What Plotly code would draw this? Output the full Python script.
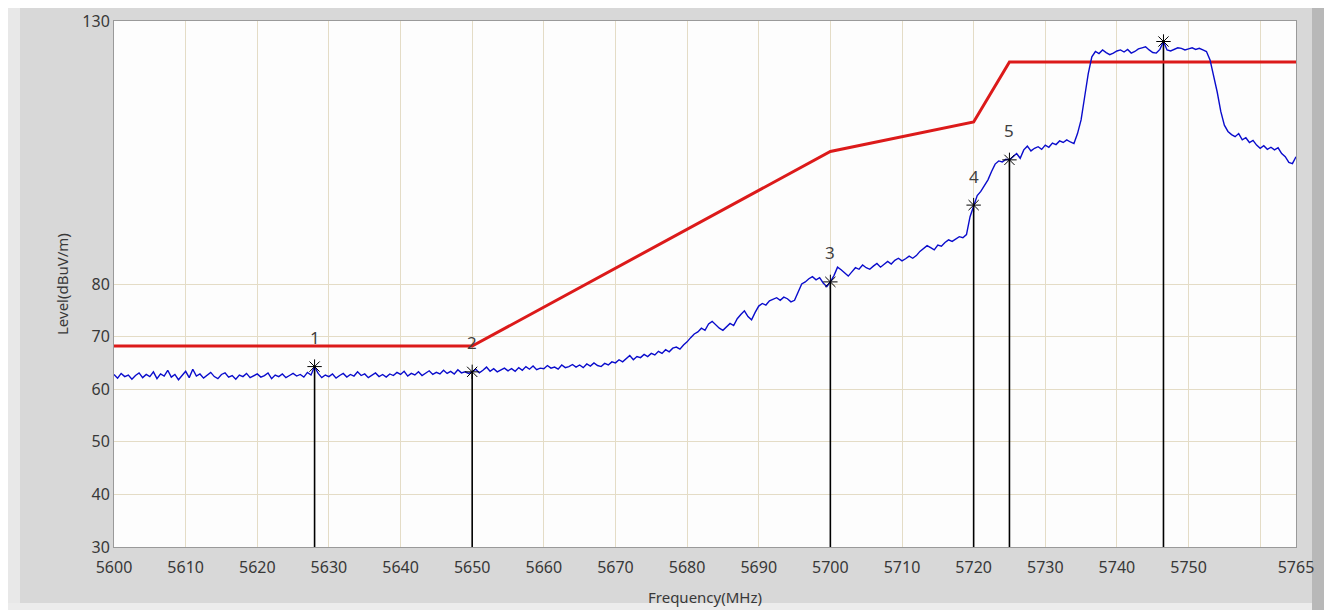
import numpy as np
import plotly.graph_objects as go

# ---- data ----
freq_start = 5600.0
freq_step = 0.5
trace_level = [
    # 5600.0 - 5609.5
    62.8, 62.1, 63.0, 62.4, 62.7, 61.9, 62.6, 63.1, 62.2, 62.8, 62.4, 63.3, 62.0, 62.9, 62.5, 63.6, 62.3, 62.8, 61.8, 62.6,
    # 5610.0 - 5619.5
    63.4, 62.2, 63.8, 62.5, 62.9, 62.1, 62.7, 63.2, 62.4, 62.0, 62.8, 63.1, 62.3, 62.6, 61.9, 62.7, 62.4, 63.0, 62.2, 62.5,
    # 5620.0 - 5629.5
    62.9, 62.3, 62.6, 63.1, 62.0, 62.7, 62.4, 62.9, 62.2, 62.6, 63.0, 62.5, 62.8, 62.3, 63.2, 62.7, 64.3, 63.0, 62.2, 62.7,
    # 5630.0 - 5639.5
    62.4, 62.9, 62.1, 62.6, 63.0, 62.3, 62.8, 62.5, 63.3, 62.6, 62.9, 62.2, 62.7, 63.1, 62.4, 62.8, 62.3, 62.9, 62.6, 63.2,
    # 5640.0 - 5649.5
    62.8, 63.4, 62.5, 63.0, 62.7, 63.3, 62.6, 63.1, 63.5, 62.8, 63.2, 62.9, 63.6, 63.0, 63.4, 62.9, 63.7, 63.1, 63.3, 63.0,
    # 5650.0 - 5659.5
    63.3, 63.8, 63.1, 63.6, 64.2, 63.4, 63.9, 63.3, 63.7, 64.0, 63.5, 63.9, 63.4, 64.1, 63.6, 64.3, 63.8, 64.4, 63.7, 64.0,
    # 5660.0 - 5669.5
    63.9, 64.5, 64.0, 64.2, 63.8, 64.6, 64.1, 64.3, 64.7, 64.2, 64.6, 64.1, 64.8, 64.4, 65.0, 64.5, 64.3, 64.9, 64.6, 65.2,
    # 5670.0 - 5679.5
    65.0, 65.6, 65.2, 65.8, 66.4, 65.6, 66.2, 66.0, 66.6, 66.2, 66.8, 66.5, 67.2, 66.8, 67.5, 67.1, 67.8, 68.0, 67.6, 68.4,
    # 5680.0 - 5689.5
    69.0, 69.8, 70.5, 70.9, 71.6, 71.2, 72.4, 72.9, 72.3, 71.6, 71.2, 71.9, 72.5, 72.1, 73.4, 74.2, 74.9, 73.8, 73.2, 74.6,
    # 5690.0 - 5699.5
    75.8, 76.3, 76.0, 76.8, 77.1, 77.4, 76.9, 77.5, 77.2, 76.6, 76.9, 78.6, 80.0, 80.4, 81.0, 81.4, 80.8, 81.2, 80.2, 79.5,
    # 5700.0 - 5709.5
    80.4, 81.6, 83.2, 82.7, 82.0, 81.5, 82.3, 83.1, 82.8, 83.6, 83.1, 82.8, 83.4, 83.9, 83.2, 83.7, 84.3, 83.8, 84.5, 84.9,
    # 5710.0 - 5719.5
    84.4, 84.8, 85.3, 84.9, 85.4, 86.2, 86.8, 87.3, 86.9, 86.5, 87.4, 87.2, 87.9, 88.4, 88.1, 88.6, 89.0, 88.8, 89.4, 92.8,
    # 5720.0 - 5729.5
    95.0, 96.8, 97.6, 98.8, 99.8, 101.4, 102.8, 103.4, 103.2, 103.7, 103.6, 104.2, 104.8, 103.9, 105.5, 106.2, 105.3, 105.8, 106.1, 105.6,
    # 5730.0 - 5739.5
    106.4, 106.0, 106.8, 106.5, 107.2, 106.9, 107.4, 107.0, 106.7, 108.6, 111.2, 115.6, 120.0, 123.2, 124.2, 123.8, 124.5, 124.0, 123.6, 123.9,
    # 5740.0 - 5749.5
    124.3, 124.5, 124.1, 124.6, 123.9, 124.2, 124.7, 124.9, 125.1, 124.5, 124.0, 123.9, 124.6, 126.1, 124.5, 124.3, 124.6, 124.9, 124.8, 124.5,
    # 5750.0 - 5759.5
    124.7, 124.9, 124.6, 124.8, 124.5, 124.2, 122.6, 119.8, 116.5, 112.8, 110.2, 109.0, 108.4, 108.0, 108.6, 107.4, 107.8, 106.9, 107.3, 106.4,
    # 5760.0 - 5765.0
    105.8, 106.3, 105.6, 106.0, 105.5, 105.9, 104.8, 104.2, 103.1, 102.9, 104.2,
]
trace_freq = [freq_start + freq_step * i for i in range(len(trace_level))]

limit_freq = [5600, 5650, 5700, 5720, 5725, 5765]
limit_level = [68.2, 68.2, 105.2, 110.8, 122.2, 122.2]

marker_freq = [5628.0, 5650.0, 5700.0, 5720.0, 5725.0, 5746.5]
marker_level = [64.3, 63.3, 80.4, 95.0, 103.6, 126.1]
marker_label = ["1", "2", "3", "4", "5", ""]

x_tick_vals = [5600, 5610, 5620, 5630, 5640, 5650, 5660, 5670, 5680, 5690,
               5700, 5710, 5720, 5730, 5740, 5750, 5765]
y_tick_vals = [30, 40, 50, 60, 70, 80, 130]

x_range = [5600, 5765]
y_range = [30, 130]

# ---- figure ----
FONT = "Noto Sans"
TXT = "#383838"
GRID = "#e4dcc6"

fig = go.Figure()

# vertical marker lines
vx, vy = [], []
for f, lv in zip(marker_freq, marker_level):
    vx += [f, f, None]
    vy += [y_range[0], lv, None]
fig.add_trace(go.Scatter(x=vx, y=vy, mode="lines",
                         line=dict(color="black", width=1.6),
                         hoverinfo="skip", showlegend=False))

fig.add_trace(go.Scatter(x=limit_freq, y=limit_level, mode="lines",
                         line=dict(color="#dc1a1a", width=3),
                         showlegend=False))

fig.add_trace(go.Scatter(x=trace_freq, y=trace_level, mode="lines",
                         line=dict(color="#0a0ccc", width=1.4),
                         showlegend=False))

fig.add_trace(go.Scatter(x=marker_freq, y=marker_level, mode="markers",
                         marker=dict(symbol="asterisk-open", size=12, color="black",
                                     line=dict(color="black", width=1)),
                         showlegend=False))

# invisible trace on the overlay axis for 10 MHz grid
fig.add_trace(go.Scatter(x=x_range, y=y_range, xaxis="x2", mode="lines",
                         line=dict(width=0), opacity=0, hoverinfo="skip",
                         showlegend=False))

for f, lv, lab in zip(marker_freq, marker_level, marker_label):
    if lab:
        fig.add_annotation(x=f, y=lv, text=lab, showarrow=False,
                           yshift=29, font=dict(family=FONT, size=17, color="#404040"))

# page offset (body margin) = 8 px
OFF = 8
W, H = 1332 - OFF, 610 - OFF
L, R, T, B = 114 - OFF, 36, 21 - OFF, 63
pw, ph = W - L - R, H - T - B


def px(p):  # page pixel -> paper x
    return (p - OFF - L) / pw


def py(p):  # page pixel -> paper y
    return (H - B - (p - OFF)) / ph


# axis titles
fig.add_annotation(xref="paper", yref="paper", x=0.5, y=py(597),
                   text="Frequency(MHz)", showarrow=False, yanchor="middle",
                   font=dict(family=FONT, size=15, color=TXT))
fig.add_annotation(xref="paper", yref="paper", x=px(62), y=0.5,
                   text="Level(dBuV/m)", textangle=-90, showarrow=False,
                   xanchor="center",
                   font=dict(family=FONT, size=15, color=TXT))

shapes = [
    dict(type="rect", xref="paper", yref="paper", x0=px(OFF), x1=px(20), y0=py(OFF), y1=py(603),
         fillcolor="#e8e8e8", line_width=0, layer="below"),
    dict(type="rect", xref="paper", yref="paper", x0=px(OFF), x1=px(1332), y0=py(603), y1=py(610),
         fillcolor="#ececec", line_width=0, layer="below"),
    dict(type="rect", xref="paper", yref="paper", x0=px(1312), x1=px(1328), y0=py(OFF), y1=py(610),
         fillcolor="#b8b8b8", line_width=0, layer="below"),
    dict(type="rect", xref="paper", yref="paper", x0=px(1328), x1=px(1332), y0=py(OFF), y1=py(610),
         fillcolor="#f4f4f4", line_width=0, layer="below"),
]

fig.update_layout(
    width=W, height=H,
    margin=dict(l=L, r=R, t=T, b=B, autoexpand=False),
    paper_bgcolor="#d8d8d8",
    plot_bgcolor="#fdfdfd",
    font=dict(family=FONT, size=16, color=TXT),
    shapes=shapes,
    xaxis=dict(range=x_range, tickmode="array", tickvals=x_tick_vals,
               showgrid=False, zeroline=False, showline=True, linecolor="#9a9a9a",
               mirror=True, ticks="", ticklabelstandoff=6, automargin=False,
               tickfont=dict(family=FONT, size=16, color=TXT)),
    xaxis2=dict(range=x_range, overlaying="x", dtick=10, tick0=5600,
                showgrid=True, gridcolor=GRID, gridwidth=1, showticklabels=False,
                zeroline=False, ticks="", layer="below traces", automargin=False),
    yaxis=dict(range=y_range, tickmode="array", tickvals=y_tick_vals,
               showgrid=True, gridcolor=GRID, gridwidth=1, zeroline=False,
               showline=True, linecolor="#9a9a9a", mirror=True, ticks="",
               automargin=False,
               tickfont=dict(family=FONT, size=16, color=TXT)),
)

fig.write_html("out.html")
